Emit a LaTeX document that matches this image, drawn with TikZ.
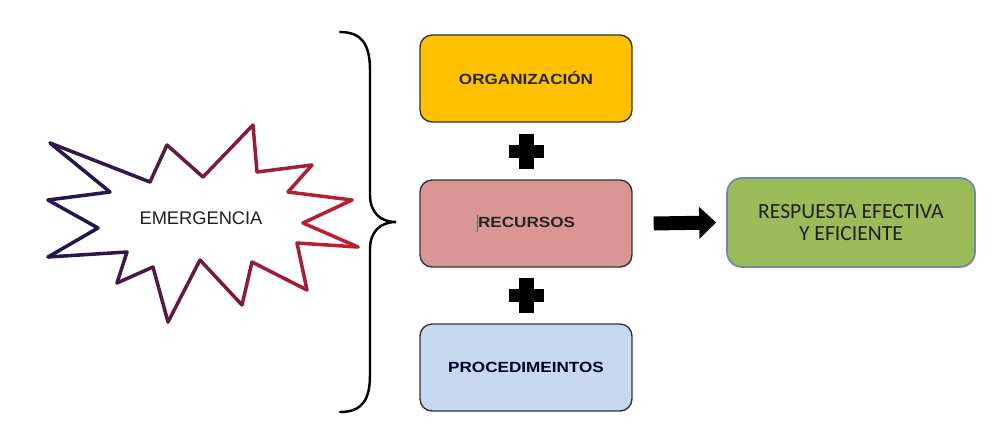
\documentclass[tikz,border=0pt]{standalone}
\usepackage{fontspec}
\usepackage{graphicx}
\setmainfont{Liberation Sans}
\newfontfamily\calibriF{Carlito}
\usetikzlibrary{arrows.meta,calc,positioning}
\definecolor{orgFill}{HTML}{FFC000}
\definecolor{recFill}{HTML}{D99694}
\definecolor{procFill}{HTML}{C6D9F1}
\definecolor{respFill}{HTML}{9BBB59}
\definecolor{respLine}{HTML}{6F8AA6}
\definecolor{starL}{HTML}{22164F}
\definecolor{starR}{HTML}{C8202F}
\begin{document}
\begin{tikzpicture}[x=0.02cm, y=-0.02cm,
    boxS/.style={draw=black!80, line width=0.8pt, rounded corners=0.24cm,
        minimum width=4.24cm, minimum height=1.74cm, align=center,
        font=\bfseries\fontsize{8.4}{10}\selectfont},
    respS/.style={draw=respLine, line width=1pt, fill=respFill, rounded corners=0.3cm,
        minimum width=4.96cm, minimum height=1.78cm, align=center, text=black!88,
        font=\calibriF\fontsize{12.3}{13}\selectfont},
    braceS/.style={line width=1.4pt, line cap=round},
    bigArrowS/.style={line width=0.28cm, -{Triangle[length=0.34cm, width=0.62cm]}},
]
\useasboundingbox (0,0) rectangle (998,423);
% Star with a colour run from left to right
\fill[white] (50,143) -- (150,182) -- (167,145) -- (203,177) -- (253,125) -- (257,172)
    -- (312,165) -- (288,192) -- (352,200) -- (303,223) -- (358,247) -- (297,243)
    -- (307,290) -- (252,262) -- (242,305) -- (200,260) -- (168,322) -- (153,267)
    -- (117,283) -- (127,252) -- (48,257) -- (98,228) -- (48,200) -- (110,192) -- cycle;
\foreach \x/\y [remember=\x as \px (initially 110), remember=\y as \py (initially 192)] in
    {50/143, 150/182, 167/145, 203/177, 253/125, 257/172, 312/165, 288/192,
     352/200, 303/223, 358/247, 297/243, 307/290, 252/262, 242/305, 200/260,
     168/322, 153/267, 117/283, 127/252, 48/257, 98/228, 48/200, 110/192} {
  \pgfmathtruncatemacro\pct{max(0,min(100,((\px+\x)/2-70)/280*100))}
  \draw[starR!\pct!starL, line width=2pt, line cap=round, line join=round]
      (\px,\py) -- (\x,\y);
}
\node[font=\fontsize{10.4}{12}\selectfont, text=black!88] (emerg) at (201,218) {EMERGENCIA};
% Brace
\draw[braceS] (340,32) .. controls (362,32) and (370,45) .. (370,70) -- (370,195)
    .. controls (370,212) and (380,222) .. (396,222)
    .. controls (380,222) and (370,232) .. (370,249) -- (370,375)
    .. controls (370,400) and (362,412) .. (340,412);
% Boxes
\node[boxS, fill=orgFill, text=black!85] (org) at (526,78.5) {\scalebox{1.16}[1]{ORGANIZACIÓN}};
\node[boxS, fill=recFill, text=black!85] (rec) at (526,223.5)
    {\scalebox{1.16}[1]{\textcolor{black!60}{\rule[-3pt]{0.6pt}{10pt}}RECURSOS}};
\node[boxS, fill=procFill, text=black!85!blue] (proc) at (526,367.5) {\scalebox{1.16}[1]{PROCEDIMEINTOS}};
\node[respS] (resp) at (851,222.5) {RESPUESTA EFECTIVA\\Y EFICIENTE};
% Plus signs
\foreach \a/\b in {org/rec, rec/proc} {
  \coordinate (plusC) at ($(\a.south)!0.5!(\b.north)$);
  \fill ([xshift=-0.35cm, yshift=-0.13cm]plusC) rectangle ([xshift=0.35cm, yshift=0.13cm]plusC);
  \fill ([xshift=-0.15cm, yshift=-0.35cm]plusC) rectangle ([xshift=0.15cm, yshift=0.35cm]plusC);
}
% Result arrow
\draw[bigArrowS] ([xshift=0.42cm]rec.east) -- ([xshift=-0.2cm]resp.west);
\end{tikzpicture}
\end{document}
